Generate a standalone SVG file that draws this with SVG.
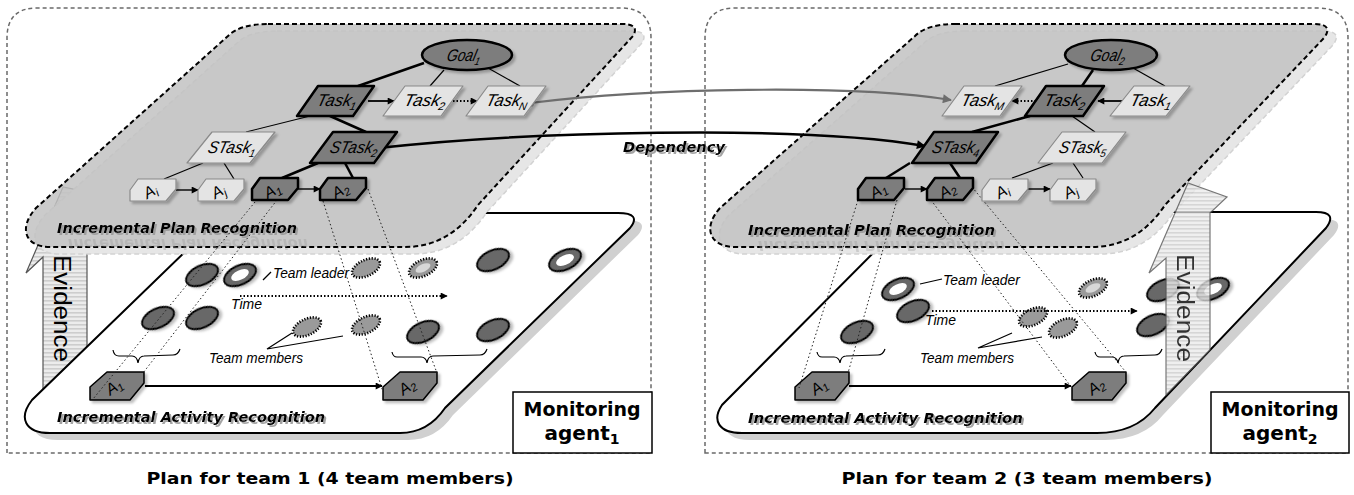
<svg xmlns="http://www.w3.org/2000/svg" width="1354" height="495" viewBox="0 0 1354 495">
<defs>
<style>
.panel{fill:none;stroke:#6a6a6a;stroke-width:1.5;stroke-dasharray:4 3}
.plan{fill:#c2c2c2;fill-opacity:0.85;stroke:#000;stroke-width:2;stroke-dasharray:5 3}
.plan-sh{fill:#e6e6e6;stroke:#d2d2d2;stroke-width:1.5;stroke-dasharray:5 3}
.act{fill:#fff;stroke:#000;stroke-width:2}
.act-sh{fill:#d0d0d0}
.dark{fill:#7d7d7d;stroke:#000;stroke-width:2.5;stroke-linejoin:round;filter:url(#ds)}
.light{fill:#e4e4e4;stroke:#8a8a8a;stroke-width:1.2;stroke-linejoin:round;filter:url(#ds)}
.lbl{font-family:"Liberation Sans",Arial,sans-serif;font-style:italic;font-size:17px;fill:#000;text-anchor:middle}
.albl{font-family:"Liberation Sans",Arial,sans-serif;font-style:italic;font-size:16px;fill:#000;text-anchor:middle}
.thick{stroke:#000;stroke-width:2.5;fill:none}
.thin{stroke:#000;stroke-width:1.2;fill:none}
.arr{stroke:#000;stroke-width:1.8;fill:none;marker-end:url(#ah)}
.dotarr{stroke:#000;stroke-width:1.8;stroke-dasharray:1.5 2;fill:none;marker-end:url(#ah)}
.proj{stroke:#222;stroke-width:1;stroke-dasharray:1.5 2.5;fill:none}
.obs{fill:#686868;stroke:#000;stroke-width:2;filter:url(#ds)}
.mem{fill:#9a9a9a;stroke:#000;stroke-width:2.6;stroke-dasharray:1.2 1.6}
.ann{font-family:"Liberation Sans",Arial,sans-serif;font-style:italic;font-size:14px;fill:#000}
.title{font-family:"DejaVu Sans",Verdana,sans-serif;font-weight:bold;font-style:oblique;font-size:14px;fill:#000;filter:url(#ts)}
.refl{font-family:"DejaVu Sans",Verdana,sans-serif;font-weight:bold;font-style:oblique;font-size:14px;fill:#9a9a9a;opacity:0.35}
.cap{font-family:"DejaVu Sans",Verdana,sans-serif;font-weight:bold;font-size:16px;text-anchor:middle;fill:#000}
.mon{font-family:"DejaVu Sans",Verdana,sans-serif;font-weight:bold;font-size:20px;text-anchor:middle;fill:#000}
.evid{fill:url(#stripes);stroke:#555;stroke-width:1.2;stroke-linejoin:miter}
.evtext{font-family:"Liberation Sans",Arial,sans-serif;font-size:23px;fill:#000}
.brace{fill:none;stroke:#000;stroke-width:1.2}
</style>
<filter id="ds" x="-30%" y="-30%" width="160%" height="160%">
  <feDropShadow dx="2.5" dy="2.5" stdDeviation="1" flood-color="#000" flood-opacity="0.25"/>
</filter>
<filter id="ts" x="-5%" y="-30%" width="110%" height="160%">
  <feDropShadow dx="2" dy="2" stdDeviation="0.6" flood-color="#9a9a9a" flood-opacity="0.9"/>
</filter>
<pattern id="stripes" width="4" height="4" patternUnits="userSpaceOnUse">
  <rect width="4" height="4" fill="#ececec"/>
  <rect width="4" height="1.6" fill="#cdcdcd"/>
</pattern>
<marker id="ah" viewBox="0 0 10 10" refX="9" refY="5" markerWidth="9" markerHeight="7" markerUnits="userSpaceOnUse" orient="auto">
  <path d="M0,0 L10,5 L0,10 Z" fill="#000"/>
</marker>
<marker id="ahBig" viewBox="0 0 10 10" refX="9" refY="5" markerWidth="12" markerHeight="9" markerUnits="userSpaceOnUse" orient="auto">
  <path d="M0,0 L10,5 L0,10 Z" fill="#000"/>
</marker>
<marker id="ahGray" viewBox="0 0 10 10" refX="9" refY="5" markerWidth="12" markerHeight="9" markerUnits="userSpaceOnUse" orient="auto">
  <path d="M0,0 L10,5 L0,10 Z" fill="#6e6e6e"/>
</marker>
<marker id="dotBlack" viewBox="0 0 10 10" refX="5" refY="5" markerWidth="8" markerHeight="8" markerUnits="userSpaceOnUse">
  <circle cx="5" cy="5" r="5" fill="#000"/>
</marker>
<marker id="dotGray" viewBox="0 0 10 10" refX="5" refY="5" markerWidth="8" markerHeight="8" markerUnits="userSpaceOnUse">
  <circle cx="5" cy="5" r="5" fill="#6e6e6e"/>
</marker>
</defs>

<rect width="1354" height="495" fill="#fff"/>

<!-- ===== team 1 ===== -->
<g id="panel1">
  <path class="panel" d="M7,453 L7,38 Q7,8 37,8 L621,8 Q651,8 651,38 L651,453 Z"/>
  <!-- evidence arrow, standing behind the activity plane -->
  <polygon class="evid" points="43,397 43,257 26,273 63,187 102,195 87,213 87,353"/>
  <text class="evtext" transform="translate(54,255) rotate(90)" textLength="107" lengthAdjust="spacingAndGlyphs">Evidence</text>
  <!-- activity plane -->
  <path class="act-sh" transform="translate(8,7)" d="M258,213 L618,213 Q642,213 630,228 L445,408 Q428,433 400,433 L50,433 C25,433 18,418 32,400 L222,216 Q230,213 258,213 Z"/>
  <path class="act" d="M258,213 L618,213 Q642,213 630,228 L445,408 Q428,433 400,433 L50,433 C25,433 18,418 32,400 L222,216 Q230,213 258,213 Z"/>
</g>

<g id="activity1">
  <g transform="translate(202,275) rotate(-25)"><ellipse class="obs" rx="17" ry="9.5"/></g>
  <g transform="translate(240,275) rotate(-25)"><ellipse class="obs" rx="17" ry="9.5"/><ellipse rx="9.5" ry="4.8" fill="#fff"/></g>
  <g transform="translate(158,318) rotate(-25)"><ellipse class="obs" rx="17" ry="9.5"/></g>
  <g transform="translate(202,318) rotate(-25)"><ellipse class="obs" rx="17" ry="9.5"/></g>
  <g transform="translate(366,268) rotate(-25)"><ellipse class="mem" rx="15" ry="8"/></g>
  <g transform="translate(423,268) rotate(-25)"><ellipse class="mem" rx="15" ry="8"/><ellipse rx="8" ry="3.8" fill="#d8d8d8"/></g>
  <g transform="translate(307,327) rotate(-25)"><ellipse class="mem" rx="15" ry="8"/></g>
  <g transform="translate(366,325) rotate(-25)"><ellipse class="mem" rx="15" ry="8"/></g>
  <g transform="translate(493,260) rotate(-25)"><ellipse class="obs" rx="17" ry="9.5"/></g>
  <g transform="translate(565,260) rotate(-25)"><ellipse class="obs" rx="17" ry="9.5"/><ellipse rx="9.5" ry="4.8" fill="#fff"/></g>
  <g transform="translate(423,332) rotate(-25)"><ellipse class="obs" rx="17" ry="9.5"/></g>
  <g transform="translate(493,330) rotate(-25)"><ellipse class="obs" rx="17" ry="9.5"/></g>
  <text class="ann" x="273" y="278" textLength="76" lengthAdjust="spacingAndGlyphs">Team leader</text>
  <text class="ann" x="231" y="309" textLength="31" lengthAdjust="spacingAndGlyphs">Time</text>
  <text class="ann" x="209" y="363" textLength="94" lengthAdjust="spacingAndGlyphs">Team members</text>
  <path class="brace" d="M113,350 q1,6 6,6 L132,356 q5,0 6,7 q1,-7 6,-7 L173,355 q5,0 7,-6"/>
  <path class="brace" d="M392,352 q1,5 5,5 L421,357 q5,0 6,6 q1,-7 6,-7 L480,355 q5,0 7,-6"/>
  <g id="act1-A1">
    <polygon class="dark" style="stroke-width:1.5" points="90,387 107,372 144,372 144,383 130,400 90,400"/>
    <text class="albl" transform="translate(117,391) rotate(-35)">A<tspan font-size="11" dy="3">1</tspan></text>
  </g>
  <g id="act1-A2">
    <polygon class="dark" style="stroke-width:1.5" points="383,387 400,372 437,372 437,383 423,400 383,400"/>
    <text class="albl" transform="translate(410,391) rotate(-35)">A<tspan font-size="11" dy="3">2</tspan></text>
  </g>
  <text class="title" x="57" y="422" textLength="268" lengthAdjust="spacingAndGlyphs">Incremental Activity Recognition</text>
</g>

<g id="planplane1">
  <path class="plan-sh" transform="translate(9,7)" d="M268,24 L622,24 Q640,24 633,36 L478,205 Q450,247 405,247 L50,247 C25,247 18,228 36,208 L228,36 Q240,24 268,24 Z"/>
  <path class="plan" d="M268,24 L622,24 Q640,24 633,36 L478,205 Q450,247 405,247 L50,247 C25,247 18,228 36,208 L228,36 Q240,24 268,24 Z"/>
  <text class="refl" transform="translate(0,472) scale(1,-1)" x="68" y="233" textLength="240" lengthAdjust="spacingAndGlyphs">Incremental Plan Recognition</text>
  <text class="title" x="57" y="233" textLength="240" lengthAdjust="spacingAndGlyphs">Incremental Plan Recognition</text>
</g>

<!-- ===== team 2 ===== -->
<g id="panel2">
  <path class="panel" d="M705,453 L705,38 Q705,8 735,8 L1318,8 Q1348,8 1348,38 L1348,453 Z"/>
  <path class="act-sh" transform="translate(8,7)" d="M950,212 L1316,212 Q1338,212 1326,228 L1155,408 Q1135,433 1097,433 L742,433 C718,433 712,420 722,405 L906,220 Q914,212 950,212 Z"/>
  <path class="act" d="M950,212 L1316,212 Q1338,212 1326,228 L1155,408 Q1135,433 1097,433 L742,433 C718,433 712,420 722,405 L906,220 Q914,212 950,212 Z"/>
</g>

<g id="activity2">
  <g transform="translate(898,289) rotate(-25)"><ellipse class="obs" rx="17" ry="9.5"/><ellipse rx="9.5" ry="4.8" fill="#fff"/></g>
  <g transform="translate(913,311) rotate(-25)"><ellipse class="obs" rx="17" ry="9.5"/></g>
  <g transform="translate(857,332) rotate(-25)"><ellipse class="obs" rx="17" ry="9.5"/></g>
  <g transform="translate(1093,288) rotate(-25)"><ellipse class="mem" rx="15" ry="8"/><ellipse rx="8" ry="3.8" fill="#d8d8d8"/></g>
  <g transform="translate(1033,317) rotate(-25)"><ellipse class="mem" rx="15" ry="8"/></g>
  <g transform="translate(1063,328) rotate(-25)"><ellipse class="mem" rx="15" ry="8"/></g>
  <g transform="translate(1163,290) rotate(-25)"><ellipse class="obs" rx="17" ry="9.5"/></g>
  <g transform="translate(1213,289) rotate(-25)"><ellipse class="obs" rx="17" ry="9.5"/><ellipse rx="9.5" ry="4.8" fill="#fff"/></g>
  <g transform="translate(1153,325) rotate(-25)"><ellipse class="obs" rx="17" ry="9.5"/></g>
  <text class="ann" x="943" y="285" textLength="77" lengthAdjust="spacingAndGlyphs">Team leader</text>
  <text class="ann" x="925" y="325" textLength="31" lengthAdjust="spacingAndGlyphs">Time</text>
  <text class="ann" x="920" y="363" textLength="94" lengthAdjust="spacingAndGlyphs">Team members</text>
  <path class="brace" d="M817,352 q1,5 5,5 L834,357 q5,0 6,6 q1,-7 6,-7 L878,355 q5,0 7,-6"/>
  <path class="brace" d="M1095,352 q1,5 5,5 L1112,357 q5,0 6,6 q1,-7 6,-7 L1155,355 q5,0 7,-6"/>
  <g id="act2-A1">
    <polygon class="dark" style="stroke-width:1.5" points="795,387 812,372 849,372 849,383 835,400 795,400"/>
    <text class="albl" transform="translate(822,391) rotate(-35)">A<tspan font-size="11" dy="3">1</tspan></text>
  </g>
  <g id="act2-A2">
    <polygon class="dark" style="stroke-width:1.5" points="1072,387 1089,372 1126,372 1126,383 1112,400 1072,400"/>
    <text class="albl" transform="translate(1099,391) rotate(-35)">A<tspan font-size="11" dy="3">2</tspan></text>
  </g>
  <text class="title" x="748" y="423" textLength="275" lengthAdjust="spacingAndGlyphs">Incremental Activity Recognition</text>
</g>

<g id="planplane2">
  <path class="plan-sh" transform="translate(9,7)" d="M955,24 L1314,24 Q1334,24 1324,38 L1165,205 Q1137,247 1092,247 L735,247 C710,247 702,228 720,208 L915,36 Q927,24 955,24 Z"/>
  <path class="plan" d="M955,24 L1314,24 Q1334,24 1324,38 L1165,205 Q1137,247 1092,247 L735,247 C710,247 702,228 720,208 L915,36 Q927,24 955,24 Z"/>
  <text class="refl" transform="translate(0,476) scale(1,-1)" x="758" y="235" textLength="247" lengthAdjust="spacingAndGlyphs">Incremental Plan Recognition</text>
  <text class="title" x="748" y="235" textLength="247" lengthAdjust="spacingAndGlyphs">Incremental Plan Recognition</text>
</g>

<!-- evidence arrow standing on the activity plane -->
<g id="evidence2" opacity="0.8">
  <polygon class="evid" points="1166,395 1166,258 1149,273 1188,183 1227,197 1210,213 1210,350"/>
  <text class="evtext" transform="translate(1177,254) rotate(90)" textLength="108" lengthAdjust="spacingAndGlyphs">Evidence</text>
</g>

<!-- ===== connectors ===== -->
<g id="connectors">
  <!-- projections from plan activities to recognised activities -->
  <line class="proj" x1="255" y1="202" x2="93" y2="399"/>
  <line class="proj" x1="277" y1="200" x2="143" y2="373"/>
  <line class="proj" x1="323" y1="201" x2="383" y2="392"/>
  <line class="proj" x1="368" y1="189" x2="437" y2="373"/>
  <line class="proj" x1="858" y1="200" x2="799" y2="388"/>
  <line class="proj" x1="897" y1="200" x2="848" y2="373"/>
  <line class="proj" x1="931" y1="200" x2="1072" y2="388"/>
  <line class="proj" x1="972" y1="187" x2="1125" y2="371"/>

  <!-- activity plane annotations -->
  <line class="arr" x1="145" y1="386" x2="382" y2="386"/>
  <line class="arr" x1="849" y1="386" x2="1071" y2="386"/>
  <line class="dotarr" x1="240" y1="296" x2="447" y2="296"/>
  <line class="dotarr" x1="932" y1="311" x2="1137" y2="311"/>
  <line class="thin" x1="263" y1="280" x2="271" y2="272"/>
  <line class="thin" x1="920" y1="284" x2="942" y2="279"/>
  <polyline class="thin" points="292,333 267,349 343,336"/>
  <polyline class="thin" points="1012,333 978,348 1042,337"/>

  <!-- plan tree, team 1 -->
  <line class="thick" x1="424" y1="63" x2="358" y2="86"/>
  <line class="thin" x1="444" y1="70" x2="430" y2="86"/>
  <line class="thin" x1="488" y1="68" x2="520" y2="86"/>
  <line class="thin" x1="310" y1="116" x2="246" y2="132"/>
  <line class="thick" x1="330" y1="116" x2="366" y2="132"/>
  <line class="thin" x1="203" y1="163" x2="164" y2="179"/>
  <line class="thin" x1="224" y1="163" x2="234" y2="179"/>
  <line class="thick" x1="318" y1="163" x2="282" y2="178"/>
  <line class="thick" x1="345" y1="163" x2="353" y2="178"/>
  <line class="arr" x1="368" y1="101" x2="394" y2="101"/>
  <line class="dotarr" x1="453" y1="101" x2="477" y2="101"/>
  <line class="arr" style="stroke-width:1.4" x1="176" y1="190" x2="198" y2="190"/>
  <line class="arr" style="stroke-width:1.4" x1="298" y1="189" x2="320" y2="189"/>

  <!-- plan tree, team 2 -->
  <line class="thin" x1="1068" y1="64" x2="995" y2="86"/>
  <line class="thick" x1="1093" y1="70" x2="1082" y2="86"/>
  <line class="thin" x1="1133" y1="68" x2="1165" y2="86"/>
  <line class="thick" x1="1030" y1="116" x2="972" y2="132"/>
  <line class="thin" x1="1072" y1="116" x2="1095" y2="132"/>
  <line class="thick" x1="910" y1="163" x2="886" y2="178"/>
  <line class="thick" x1="950" y1="163" x2="960" y2="178"/>
  <line class="thin" x1="1053" y1="163" x2="1012" y2="178"/>
  <line class="thin" x1="1073" y1="163" x2="1083" y2="178"/>
  <line class="arr" x1="1124" y1="101" x2="1098" y2="101"/>
  <line class="dotarr" x1="1036" y1="101" x2="1012" y2="101"/>
  <line class="arr" style="stroke-width:1.4" x1="905" y1="189" x2="927" y2="189"/>
  <line class="arr" style="stroke-width:1.4" x1="1028" y1="189" x2="1050" y2="189"/>

  <!-- inter-team dependencies -->
  <path d="M530,103 C650,88 850,84 951,100" fill="none" stroke="#6e6e6e" stroke-width="2.2" marker-start="url(#dotGray)" marker-end="url(#ahGray)"/>
  <path d="M378,148 C520,132 800,124 925,146" fill="none" stroke="#000" stroke-width="2.5" marker-start="url(#dotBlack)" marker-end="url(#ahBig)"/>
  <text class="title" x="623" y="152" font-size="15" textLength="102" lengthAdjust="spacingAndGlyphs">Dependency</text>
</g>

<!-- ===== plan nodes, team 1 ===== -->
<g id="goal1">
  <ellipse class="dark" cx="467" cy="55" rx="45" ry="15"/>
  <text class="lbl" transform="translate(463,61) skewX(-14)" textLength="34" lengthAdjust="spacingAndGlyphs">Goal<tspan font-size="11" dy="4">1</tspan></text>
</g>
<g id="t1-task1">
  <polygon class="dark" points="318,86 374,86 353,116 297,116"/>
  <text class="lbl" transform="translate(336,106) skewX(-14)" textLength="40" lengthAdjust="spacingAndGlyphs">Task<tspan font-size="11" dy="4">1</tspan></text>
</g>
<g id="t1-task2">
  <polygon class="light" points="405,86 463,86 441,116 383,116"/>
  <text class="lbl" transform="translate(424,106) skewX(-14)" textLength="42" lengthAdjust="spacingAndGlyphs">Task<tspan font-size="11" dy="4">2</tspan></text>
</g>
<g id="t1-taskN">
  <polygon class="light" points="488,86 546,86 524,116 466,116"/>
  <text class="lbl" transform="translate(506,106) skewX(-14)" textLength="42" lengthAdjust="spacingAndGlyphs">Task<tspan font-size="11" dy="4">N</tspan></text>
</g>
<g id="t1-stask1">
  <polygon class="light" points="212,132 275,132 250,163 187,163"/>
  <text class="lbl" transform="translate(231,153) skewX(-14)" textLength="48" lengthAdjust="spacingAndGlyphs">STask<tspan font-size="11" dy="4">1</tspan></text>
</g>
<g id="t1-stask2">
  <polygon class="dark" points="333,132 397,132 374,163 310,163"/>
  <text class="lbl" transform="translate(353,153) skewX(-14)" textLength="48" lengthAdjust="spacingAndGlyphs">STask<tspan font-size="11" dy="4">2</tspan></text>
</g>
<g id="t1-ai">
  <polygon class="light" points="130,190 138,179 176,179 176,189 166,201 130,201"/>
  <text class="albl" transform="translate(153,196) rotate(-30)">A<tspan font-size="11" dy="3">i</tspan></text>
</g>
<g id="t1-aj">
  <polygon class="light" points="198,190 206,179 244,179 244,189 234,201 198,201"/>
  <text class="albl" transform="translate(221,196) rotate(-30)">A<tspan font-size="11" dy="3">j</tspan></text>
</g>
<g id="t1-a1">
  <polygon class="dark" points="252,189 260,178 298,178 298,188 288,200 252,200"/>
  <text class="albl" transform="translate(275,195) rotate(-30)">A<tspan font-size="11" dy="3">1</tspan></text>
</g>
<g id="t1-a2">
  <polygon class="dark" points="320,189 328,178 366,178 366,188 356,200 320,200"/>
  <text class="albl" transform="translate(343,195) rotate(-30)">A<tspan font-size="11" dy="3">2</tspan></text>
</g>

<!-- ===== plan nodes, team 2 ===== -->
<g id="goal2">
  <ellipse class="dark" cx="1111" cy="55" rx="46" ry="15"/>
  <text class="lbl" transform="translate(1107,61) skewX(-14)" textLength="35" lengthAdjust="spacingAndGlyphs">Goal<tspan font-size="11" dy="4">2</tspan></text>
</g>
<g id="t2-taskM">
  <polygon class="light" points="964,86 1022,86 1000,116 942,116"/>
  <text class="lbl" transform="translate(982,106) skewX(-14)" textLength="44" lengthAdjust="spacingAndGlyphs">Task<tspan font-size="11" dy="4">M</tspan></text>
</g>
<g id="t2-task2">
  <polygon class="dark" points="1046,86 1104,86 1083,116 1025,116"/>
  <text class="lbl" transform="translate(1064,106) skewX(-14)" textLength="42" lengthAdjust="spacingAndGlyphs">Task<tspan font-size="11" dy="4">2</tspan></text>
</g>
<g id="t2-task1">
  <polygon class="light" points="1134,86 1190,86 1166,116 1110,116"/>
  <text class="lbl" transform="translate(1150,106) skewX(-14)" textLength="42" lengthAdjust="spacingAndGlyphs">Task<tspan font-size="11" dy="4">1</tspan></text>
</g>
<g id="t2-stask4">
  <polygon class="dark" points="934,132 998,132 976,163 912,163"/>
  <text class="lbl" transform="translate(955,153) skewX(-14)" textLength="48" lengthAdjust="spacingAndGlyphs">STask<tspan font-size="11" dy="4">4</tspan></text>
</g>
<g id="t2-stask5">
  <polygon class="light" points="1062,132 1126,132 1102,163 1038,163"/>
  <text class="lbl" transform="translate(1082,153) skewX(-14)" textLength="48" lengthAdjust="spacingAndGlyphs">STask<tspan font-size="11" dy="4">5</tspan></text>
</g>
<g id="t2-a1">
  <polygon class="dark" points="858,189 866,178 904,178 904,188 894,200 858,200"/>
  <text class="albl" transform="translate(881,195) rotate(-30)">A<tspan font-size="11" dy="3">1</tspan></text>
</g>
<g id="t2-a2">
  <polygon class="dark" points="927,189 935,178 973,178 973,188 963,200 927,200"/>
  <text class="albl" transform="translate(950,195) rotate(-30)">A<tspan font-size="11" dy="3">2</tspan></text>
</g>
<g id="t2-ai">
  <polygon class="light" points="982,190 990,179 1028,179 1028,189 1018,201 982,201"/>
  <text class="albl" transform="translate(1005,196) rotate(-30)">A<tspan font-size="11" dy="3">i</tspan></text>
</g>
<g id="t2-aj">
  <polygon class="light" points="1050,190 1058,179 1096,179 1096,189 1086,201 1050,201"/>
  <text class="albl" transform="translate(1073,196) rotate(-30)">A<tspan font-size="11" dy="3">j</tspan></text>
</g>

<!-- monitoring agents -->
<g id="agent1">
  <rect x="513" y="392" width="139" height="61" fill="#fff" stroke="#000" stroke-width="1.5"/>
  <text class="mon" x="582" y="416" textLength="117" lengthAdjust="spacingAndGlyphs">Monitoring</text>
  <text class="mon" x="582" y="440">agent<tspan font-size="14" dy="4">1</tspan></text>
</g>
<g id="agent2">
  <rect x="1211" y="392" width="138" height="61" fill="#fff" stroke="#000" stroke-width="1.5"/>
  <text class="mon" x="1280" y="416" textLength="117" lengthAdjust="spacingAndGlyphs">Monitoring</text>
  <text class="mon" x="1280" y="440">agent<tspan font-size="14" dy="4">2</tspan></text>
</g>

<!-- captions -->
<text class="cap" x="330" y="484" textLength="367" lengthAdjust="spacingAndGlyphs">Plan for team 1 (4 team members)</text>
<text class="cap" x="1027" y="484" textLength="371" lengthAdjust="spacingAndGlyphs">Plan for team 2 (3 team members)</text>
</svg>
